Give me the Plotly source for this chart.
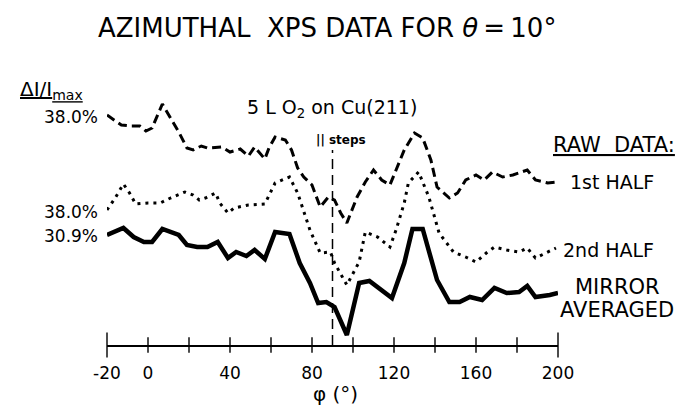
import plotly.graph_objects as go

# --- values (phi in degrees, intensity in arb. offset units) ---
phi_1st = [-20, -13, -8, -4, -1, 2, 7, 12, 15, 19, 22, 26, 29, 36, 40, 45, 49, 52, 57, 59,
           62, 67, 70, 73, 76, 80, 84, 88, 91, 94, 97, 102, 106, 110, 114, 118, 121, 125, 130, 134,
           138, 141, 147, 151, 155, 160, 164, 168, 173, 178, 185, 189, 195, 200]
int_1st = [230, 220, 219, 219, 214, 217, 241, 223, 213, 197, 195, 199, 197, 198, 193, 196, 189, 198, 186, 197,
           208, 205, 195, 177, 168, 160, 138, 148, 145, 132, 122, 148, 163, 175, 165, 160, 175, 195, 212, 207,
           185, 158, 147, 152, 165, 170, 165, 173, 168, 170, 175, 165, 162, 163]

phi_2nd = [-20, -16, -12, -9, -6, 0, 6, 11, 18, 22, 25, 28, 33, 35, 39, 42, 49, 57, 62, 69,
           73, 79, 84, 89, 91, 97, 103, 106, 112, 118, 121, 125, 127, 132, 137, 142, 149, 155, 160, 165,
           169, 175, 181, 185, 189, 194, 199]
int_2nd = [135, 147, 161, 152, 141, 142, 142, 147, 153, 150, 145, 147, 152, 142, 132, 137, 140, 141, 162, 168,
           152, 115, 92, 93, 82, 60, 83, 113, 108, 98, 115, 142, 162, 173, 148, 112, 93, 88, 83, 92,
           98, 95, 93, 97, 87, 92, 97]

phi_avg = [-20, -12, -7, -2, 2, 7, 15, 19, 24, 29, 34, 39, 43, 48, 52, 57, 62, 69, 74, 79,
           83, 87, 91, 97, 103, 108, 119, 125, 129, 134, 141, 147, 152, 157, 163, 169, 175, 181, 185, 189,
           196, 200]
int_avg = [110, 117, 108, 103, 103, 116, 110, 100, 98, 98, 103, 87, 93, 89, 95, 86, 113, 111, 82, 62,
           42, 43, 38, 10, 62, 64, 47, 82, 116, 116, 65, 43, 43, 48, 45, 57, 52, 53, 59, 48,
           50, 52]

tick_pos = [-20, 0, 20, 40, 60, 80, 100, 120, 140, 160, 180, 200]
tick_labels = [-20, 0, 40, 80, 120, 160, 200]
steps_phi = 90

FONT = "DejaVu Sans"

fig = go.Figure()

fig.add_trace(go.Scatter(x=phi_1st, y=int_1st, mode='lines',
                         line=dict(color='black', width=3, dash='9px,5px')))
fig.add_trace(go.Scatter(x=phi_2nd, y=int_2nd, mode='lines',
                         line=dict(color='black', width=3, dash='3px,5px')))
fig.add_trace(go.Scatter(x=phi_avg, y=int_avg, mode='lines',
                         line=dict(color='black', width=4.5)))

# crossing tick marks on the phi axis
fig.add_trace(go.Scatter(x=tick_pos, y=[0] * len(tick_pos), mode='markers', cliponaxis=False,
                         marker=dict(symbol='line-ns', size=[18] + [11] * (len(tick_pos) - 2) + [18],
                                     line=dict(color='black', width=2))))

# dashed line for the step direction
fig.add_shape(type='line', x0=steps_phi, x1=steps_phi, y0=0, y1=195,
              line=dict(color='black', width=1.5, dash='10px,6px'))

L, R, T, B = 107, 121, 95, 65


def px(x, y):
    # picture pixel position -> paper coords of the plot area
    return (x - L) / (679 - L - R), (410 - B - y) / (410 - T - B)


labels = [
    ("AZIMUTHAL\u00a0 XPS DATA FOR <i>θ</i>\u2009=\u200910°", 327, 28, 26, 'center'),
    ("<u>ΔI/I<sub>max</sub></u>", 18, 90, 20, 'left'),
    ("38.0%", 100, 117, 17, 'right'),
    ("38.0%", 100, 212, 17, 'right'),
    ("30.9%", 100, 236, 17, 'right'),
    ("5 L O<sub>2</sub> on Cu(211)", 332, 108, 19, 'center'),
    ("<b>|| steps</b>", 341, 140, 12, 'center'),
    ("<u>RAW\u00a0 DATA:</u>", 677, 145, 21, 'right'),
    ("1st HALF", 656, 182, 19, 'right'),
    ("2nd HALF", 656, 250, 19, 'right'),
    ("MIRROR", 617, 287, 21, 'center'),
    ("AVERAGED", 617, 310, 21, 'center'),
    ("φ (°)", 335, 394, 20, 'center'),
]
for text, x, y, size, anchor in labels:
    xp, yp = px(x, y)
    fig.add_annotation(text=text, x=xp, y=yp, xanchor=anchor, yanchor='middle',
                       xref='paper', yref='paper', showarrow=False,
                       font=dict(family=FONT, size=size, color='black'))

fig.update_layout(
    width=679, height=410,
    margin=dict(l=L, r=R, t=T, b=B),
    plot_bgcolor='white', paper_bgcolor='white',
    showlegend=False,
    xaxis=dict(range=[-20, 200], showgrid=False, zeroline=False,
               showline=True, linecolor='black', linewidth=2,
               tickmode='array', tickvals=tick_labels, ticktext=[str(t) for t in tick_labels],
               ticks='', ticklabelstandoff=12,
               tickfont=dict(family=FONT, size=17, color='black')),
    yaxis=dict(range=[0, 250], visible=False),
)

fig.write_html("out.html", config={'displayModeBar': False},
               post_script="document.body.style.margin='0';document.body.style.overflow='hidden';")
